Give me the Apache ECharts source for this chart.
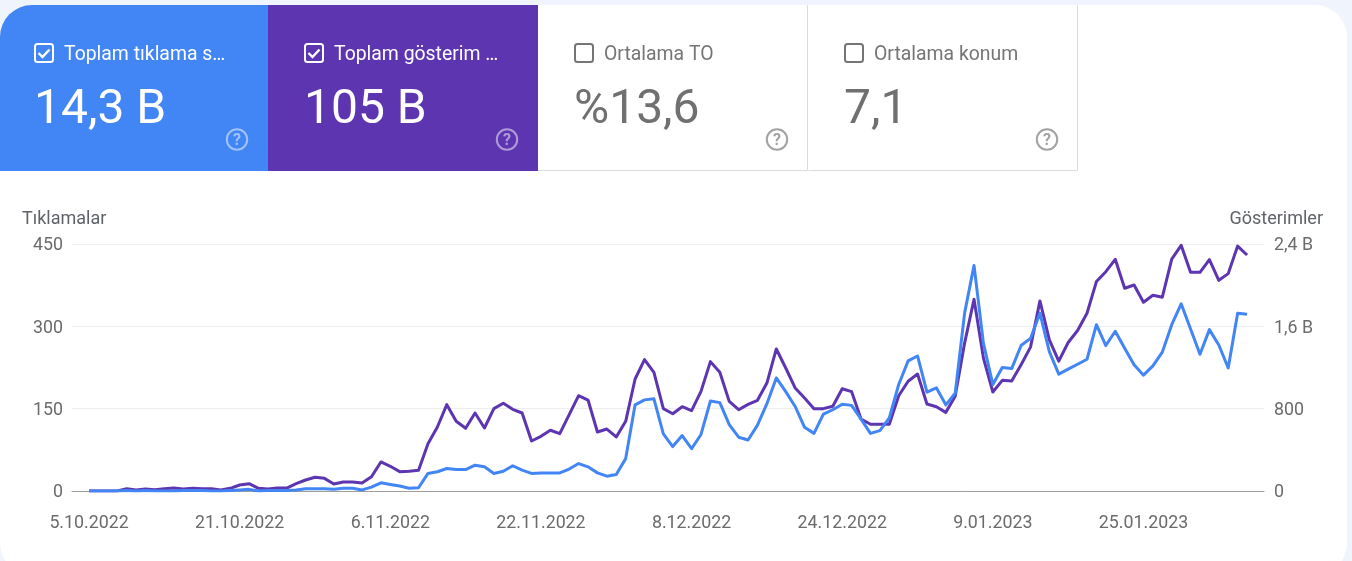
<!DOCTYPE html>
<html><head><meta charset="utf-8">
<style>html,body{margin:0;padding:0;background:#f0f4fc}#c{width:1352px;height:561px}</style>
<script src="https://cdn.jsdelivr.net/npm/echarts@6/dist/echarts.min.js"></script>
</head><body><div id="c"></div>
<script>
const tickDays = [0,16,32,48,64,80,96,112];
const tickLabels = ['5.10.2022','21.10.2022','6.11.2022','22.11.2022','8.12.2022','24.12.2022','9.01.2023','25.01.2023'];
const clicks = [0,0,0,0,1,0,1,0,0,0,1,1,1,0,0,1,2,3,0,1,1,1,2,4,4,4,3,5,5,2,7,15,12,9,5,6,32,35,41,39,39,47,44,32,36,46,38,32,33,33,33,40,50,44,33,27,30,59,157,166,168,104,81,101,77,103,164,161,121,98,93,120,159,206,181,154,116,105,140,148,158,156,131,105,110,133,194,237,246,180,188,157,178,324,411,269,194,225,223,265,278,324,254,213,222,231,240,303,265,291,260,230,211,228,253,303,341,295,249,294,266,224,324,322];
const impressions = [0,0,0,0,23,10,19,13,23,29,19,26,23,23,10,26,58,71,26,19,29,29,71,107,133,123,68,87,87,78,139,282,240,188,191,201,460,622,839,677,609,758,612,800,852,794,758,486,531,590,557,742,926,884,573,602,525,677,1088,1276,1153,800,751,819,781,968,1257,1153,871,790,842,881,1049,1380,1195,1001,904,800,800,823,994,965,700,648,648,648,926,1066,1137,845,819,764,920,1437,1863,1291,962,1075,1068,1227,1398,1847,1469,1262,1443,1559,1727,2035,2131,2251,1970,2002,1834,1902,1883,2254,2387,2125,2125,2248,2047,2112,2380,2293];
const leftTicks = [0,150,300,450];
const rightTicks = [0,800,1600,2400];
const tileTitles = ['Toplam tıklama s…','Toplam gösterim …','Ortalama TO','Ortalama konum'];
const tileValues = ['14,3 B','105 B','%13,6','7,1'];

const FONT = 'Roboto, sans-serif';
const tiles = [
 {x:0,w:268,bg:'#4285f4',on:true},{x:268,w:270,bg:'#5e35b1',on:true},
 {x:538,w:270,bg:'#ffffff',on:false},{x:808,w:270,bg:'#ffffff',on:false}];
const gfx = [];
gfx.push({type:'rect',silent:true,z:-10,shape:{x:0,y:5,width:1347,height:570,r:32},style:{fill:'#ffffff'}});
tiles.forEach((t,i)=>{
  const fg = t.on ? '#ffffff' : '#757575';
  const r = i===0 ? [32,0,0,0] : 0;
  gfx.push({type:'rect',silent:true,z:-5,shape:{x:t.x,y:5,width:t.w,height:166,r:r},style:{fill:t.bg}});
  if(!t.on){
    gfx.push({type:'polyline',silent:true,z:-4,shape:{points:[[t.x+t.w-0.5,5],[t.x+t.w-0.5,170.5],[t.x+0.5,170.5]]},style:{stroke:'#dadce0',lineWidth:1,fill:null}});
  }
  const cx=t.x+(i===0?34:36), cy=43;
  gfx.push({type:'rect',silent:true,shape:{x:cx+1,y:cy+1,width:18,height:18,r:2.5},style:{fill:'transparent',stroke:fg,lineWidth:2}});
  if(t.on) gfx.push({type:'polyline',silent:true,shape:{points:[[cx+4.5,cy+10],[cx+8.5,cy+14],[cx+15.5,cy+6.5]]},style:{stroke:fg,lineWidth:2.4,fill:null}});
  gfx.push({type:'text',silent:true,style:{x:cx+30,y:55,text:tileTitles[i],font:'19.4px '+FONT,fill:fg,verticalAlign:'middle'}});
  gfx.push({type:'text',silent:true,style:{x:cx,y:111,text:tileValues[i],font:'48px '+FONT,fill:t.on?'#ffffff':'#707070',verticalAlign:'middle'}});
  const hx=t.x+(i===0?237:239), hy=139.5;
  gfx.push({type:'circle',silent:true,shape:{cx:hx,cy:hy,r:10.2},style:{fill:'transparent',stroke:t.on?'rgba(255,255,255,0.5)':'#a3a3a3',lineWidth:2}});
  gfx.push({type:'text',silent:true,style:{x:hx,y:hy+1,text:'?',font:'bold 16px '+FONT,fill:t.on?'rgba(255,255,255,0.5)':'#a3a3a3',align:'center',verticalAlign:'middle'}});
});

const bFmt = v => v>=1000 ? String(v/1000).replace('.',',')+' B' : String(v);
const labelRich = {a:{fontSize:17.8,color:'#6b6b6b',fontFamily:FONT,padding:[4,0,0,0]}};
const chart = echarts.init(document.getElementById('c'),null,{width:1352,height:561});
chart.setOption({
  animation:false,
  backgroundColor:'#f0f4fc',
  textStyle:{fontFamily:FONT},
  graphic:gfx,
  grid:{left:72,right:88,top:244,bottom:70,containLabel:false},
  xAxis:{type:'value',min:-1.81,max:124.8,
    axisLine:{show:true,onZero:false,lineStyle:{color:'#9e9e9e',width:1}},
    axisTick:{show:false},splitLine:{show:false},
    axisLabel:{customValues:tickDays,margin:24,fontSize:17.8,color:'#6b6b6b',fontFamily:FONT,hideOverlap:false,
      formatter:v=>tickLabels[tickDays.indexOf(v)]||''}},
  yAxis:[
   {type:'value',min:0,max:450,interval:150,position:'left',
    name:'Tıklamalar',nameLocation:'end',nameGap:16,
    nameTextStyle:{fontSize:18,color:'#5f6368',align:'left',padding:[0,0,0,-67],fontFamily:FONT},
    axisLine:{show:false},axisTick:{show:false},
    axisLabel:{margin:9,rich:labelRich,formatter:v=>'{a|'+v+'}'},
    splitLine:{lineStyle:{color:'#ededed',width:1}}},
   {type:'value',min:0,max:2400,interval:800,position:'right',
    name:'Gösterimler',nameLocation:'end',nameGap:16,
    nameTextStyle:{fontSize:18,color:'#5f6368',align:'right',padding:[0,-59,0,0],fontFamily:FONT},
    axisLine:{show:false},axisTick:{show:false},splitLine:{show:false},
    axisLabel:{margin:10,rich:labelRich,formatter:v=>'{a|'+bFmt(v)+'}'}}
  ],
  series:[
   {name:'Gösterimler',type:'line',yAxisIndex:1,showSymbol:false,smooth:false,
    data:impressions.map((v,i)=>[i,v]),lineStyle:{color:'#5e35b1',width:3,join:'round'},itemStyle:{color:'#5e35b1'},z:2},
   {name:'Tıklamalar',type:'line',yAxisIndex:0,showSymbol:false,smooth:false,
    data:clicks.map((v,i)=>[i,v]),lineStyle:{color:'#4285f4',width:3,join:'round'},itemStyle:{color:'#4285f4'},z:3}
  ]
});
</script></body></html>
